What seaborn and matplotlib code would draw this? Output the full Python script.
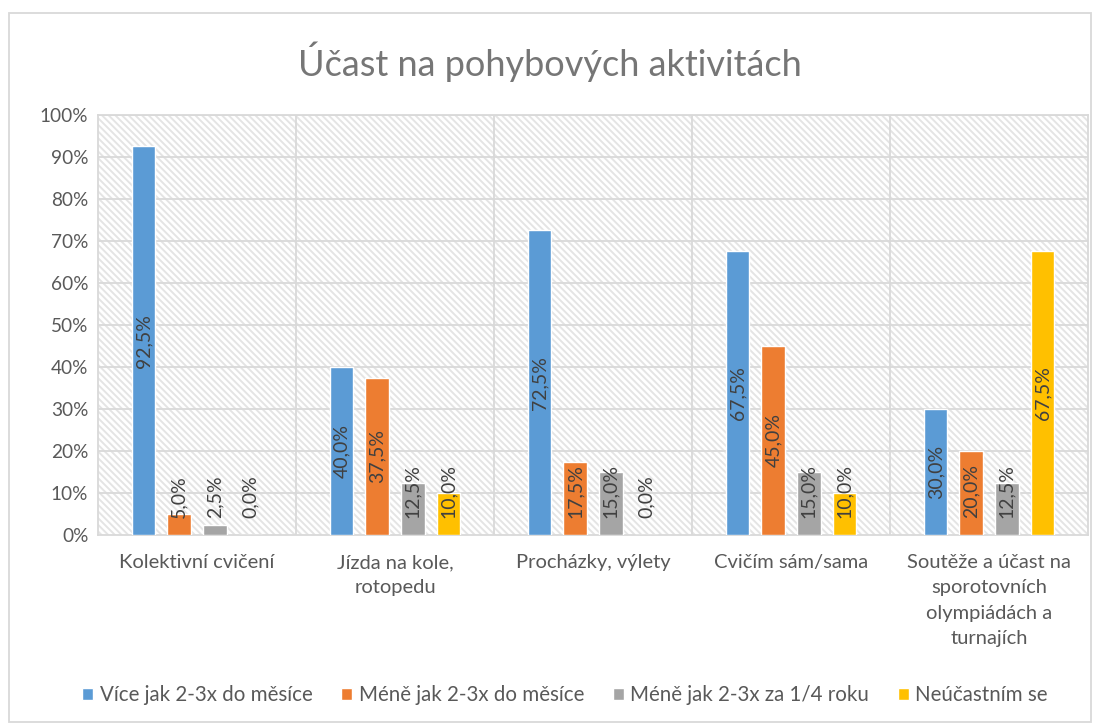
import pandas as pd
import matplotlib
matplotlib.use("Agg")
import matplotlib.pyplot as plt
import matplotlib.transforms as mtransforms
import seaborn as sns
from matplotlib.patches import Rectangle

# data
categories = ["Kolektivní cvičení", "Jízda na kole,\nrotopedu", "Procházky, výlety",
              "Cvičím sám/sama", "Soutěže a účast na\nsporotovních\nolympiádách a\nturnajích"]
series = ["Více jak 2-3x do měsíce", "Méně jak 2-3x do měsíce",
          "Méně jak 2-3x za 1/4 roku", "Neúčastním se"]
vice = [92.5, 40.0, 72.5, 67.5, 30.0]
mene = [5.0, 37.5, 17.5, 45.0, 20.0]
ctvrtletne = [2.5, 12.5, 15.0, 15.0, 12.5]
neucastni = [0.0, 10.0, 0.0, 10.0, 67.5]
colors = ["#5B9BD5", "#ED7D31", "#A5A5A5", "#FFC000"]

rows = []
for s, vals in zip(series, [vice, mene, ctvrtletne, neucastni]):
    for c, v in zip(categories, vals):
        rows.append({"kategorie": c, "serie": s, "hodnota": v})
df = pd.DataFrame(rows)

sns.set_theme(style="white")
plt.rcParams["font.family"] = ["Lato", "DejaVu Sans"]
plt.rcParams["hatch.linewidth"] = 1.4
plt.rcParams["hatch.color"] = "#e4e4e4"

fig = plt.figure(figsize=(11, 7.27), dpi=100)
ax = fig.add_axes([98 / 1100, 1 - 535 / 727, 990 / 1100, 420 / 727])

# hatched plot background
ax.add_patch(Rectangle((0, 0), 1, 1, transform=ax.transAxes, facecolor="white",
                       edgecolor="#e4e4e4", hatch="\\" * 5, linewidth=0, zorder=0))

sns.barplot(data=df, x="kategorie", y="hodnota", hue="serie", palette=colors,
            width=0.72, gap=0.333, ax=ax, zorder=3, saturation=1, legend=True)

ax.set_ylim(0, 100)
ax.set_xlim(-0.5, len(categories) - 0.5)
ax.set_yticks(range(0, 101, 10))
ax.set_yticklabels([f"{t}%" for t in range(0, 101, 10)], fontsize=13.7, color="#595959")
ax.set_xticks(range(len(categories)))
ax.set_xticklabels([])
ax.tick_params(axis="x", length=0)
ax.tick_params(axis="y", length=0, pad=7)
ax.set_xlabel("")
ax.set_ylabel("")

# category labels (multi-line, Excel-like spacing)
lbl_tr = mtransforms.offset_copy(ax.get_xaxis_transform(), fig=fig, y=-19, units="dots")
for i, c in enumerate(categories):
    ax.text(i, 0, c, transform=lbl_tr, ha="center", va="top", multialignment="center",
            fontsize=14.5, color="#595959", linespacing=1.6, clip_on=False)

# grid
for t in range(10, 101, 10):
    ax.axhline(t, color="#d9d9d9", lw=1.3, zorder=1)
for i in range(len(categories) - 1):
    ax.axvline(i + 0.5, color="#d9d9d9", lw=1.3, zorder=1)
for sp in ax.spines.values():
    sp.set_color("#d9d9d9")
    sp.set_linewidth(1.3)

# value labels, rotated, centered in bar (pushed up for short bars)
for container in ax.containers:
    for bar in container:
        h = bar.get_height()
        x = bar.get_x() + bar.get_width() / 2
        txt = f"{h:.1f}%".replace(".", ",")
        if h < 22:
            ax.text(x, 4, txt, rotation=90, ha="center", va="bottom",
                    fontsize=14, color="#404040", zorder=5)
        else:
            ax.text(x, h / 2, txt, rotation=90, ha="center", va="center",
                    fontsize=14, color="#404040", zorder=5)

handles, labels = ax.get_legend_handles_labels()
ax.legend(handles, labels, loc="center", bbox_to_anchor=(565 / 1100, 1 - 695 / 727),
          bbox_transform=fig.transFigure, ncol=4, frameon=False, fontsize=14.8,
          handlelength=0.55, handleheight=0.55, handletextpad=0.3, columnspacing=1.4,
          labelcolor="#595959")

fig.text(0.5, 1 - 62 / 727, "Účast na pohybových aktivitách", ha="center", va="center",
         fontsize=26, color="#767676")

# chart border
fig.add_artist(Rectangle((9 / 1100, 5 / 727), 1082 / 1100, 709 / 727,
                         transform=fig.transFigure, fill=False,
                         edgecolor="#d9d9d9", linewidth=1.3))

fig.savefig("out.png", dpi=100)
